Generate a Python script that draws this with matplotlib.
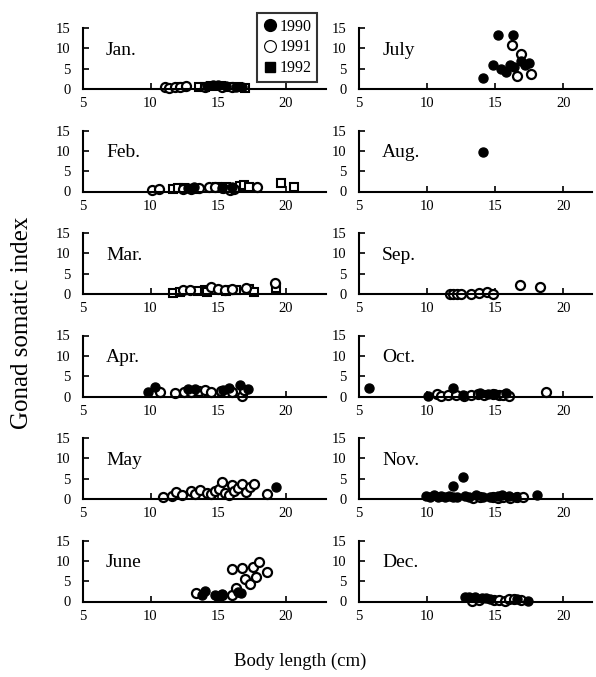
import matplotlib.pyplot as plt
from matplotlib.lines import Line2D

plt.rcParams['font.family'] = ['Liberation Serif', 'DejaVu Serif']

months = ['Jan.', 'Feb.', 'Mar.', 'Apr.', 'May', 'June',
          'July', 'Aug.', 'Sep.', 'Oct.', 'Nov.', 'Dec.']
xticks = [5, 10, 15, 20]
yticks = [0, 5, 10, 15]

# 各月数据 (体长, 性腺指数)
x1990 = {
    'Jan.': [14.2, 14.6, 15.0, 15.6, 16.3, 16.8],
    'Feb.': [12.8, 13.2, 15.3, 16.0],
    'Mar.': [],
    'Apr.': [9.8, 10.3, 12.8, 13.3, 15.4, 15.8, 16.6, 17.2],
    'May': [19.3],
    'June': [13.8, 14.0, 14.8, 15.0, 15.3, 16.5, 16.7],
    'July': [14.1, 14.8, 15.2, 15.4, 15.8, 16.1, 16.3, 16.4, 16.9, 17.2, 17.5],
    'Aug.': [14.1],
    'Sep.': [],
    'Oct.': [5.7, 10.1, 11.9, 12.6, 13.9, 14.5, 15.0, 15.8],
    'Nov.': [9.9, 10.2, 10.5, 10.8, 11.0, 11.3, 11.6, 11.9, 11.9, 12.2, 12.6,
             12.8, 13.1, 13.6, 14.1, 14.6, 15.2, 15.5, 16.0, 16.5, 18.1],
    'Dec.': [12.8, 13.1, 13.5, 14.0, 14.3, 14.6, 16.6, 17.4],
}
y1990 = {
    'Jan.': [0.8, 1.0, 0.9, 0.7, 0.6, 0.5],
    'Feb.': [0.9, 1.2, 0.8, 1.0],
    'Mar.': [],
    'Apr.': [1.1, 2.3, 1.8, 1.9, 1.6, 2.0, 2.8, 1.8],
    'May': [3.0],
    'June': [1.5, 2.6, 1.6, 1.2, 1.8, 2.3, 2.0],
    'July': [2.7, 6.0, 13.2, 5.0, 4.2, 6.0, 13.3, 5.5, 7.0, 6.0, 6.5],
    'Aug.': [9.6],
    'Sep.': [],
    'Oct.': [2.0, 0.1, 2.0, 0.3, 0.8, 0.7, 0.5, 0.9],
    'Nov.': [0.8, 0.6, 0.9, 0.5, 0.7, 0.4, 0.8, 0.6, 3.3, 0.5, 5.4,
             0.7, 0.6, 0.9, 0.5, 0.6, 0.8, 1.0, 0.7, 0.6, 0.9],
    'Dec.': [1.2, 1.0, 1.1, 0.9, 0.8, 0.7, 0.5, 0.2],
}
x1991 = {
    'Jan.': [11.1, 11.4, 11.8, 12.2, 12.6, 14.0, 15.3, 16.0],
    'Feb.': [10.1, 10.6, 12.4, 13.0, 13.6, 14.3, 14.8, 15.4, 15.9, 16.2, 17.9],
    'Mar.': [12.4, 12.9, 14.5, 15.0, 15.5, 16.0, 17.1, 19.2],
    'Apr.': [10.7, 11.8, 12.5, 13.0, 13.6, 14.0, 14.5, 15.2, 16.0, 16.8, 16.9],
    'May': [10.9, 11.6, 11.9, 12.3, 13.0, 13.3, 13.7, 14.2, 14.5, 14.8, 15.1,
            15.3, 15.5, 15.8, 16.0, 16.2, 16.5, 16.8, 17.1, 17.4, 17.7, 18.6],
    'June': [13.4, 15.3, 16.0, 16.3, 16.0, 16.8, 17.0, 17.4, 17.6, 17.8, 18.0, 18.6],
    'July': [16.2, 16.6, 16.9, 17.6],
    'Aug.': [],
    'Sep.': [11.7, 11.9, 12.2, 12.5, 13.2, 13.8, 14.4, 14.8, 16.8, 18.3],
    'Oct.': [10.7, 11.0, 11.5, 12.1, 12.7, 13.2, 13.7, 14.2, 14.8, 15.3, 15.6, 16.0, 18.7],
    'Nov.': [13.4, 13.9, 14.8, 15.2, 15.6, 16.1, 16.6, 17.0],
    'Dec.': [13.3, 13.8, 14.9, 15.3, 15.7, 16.0, 16.4, 16.9],
}
y1991 = {
    'Jan.': [0.5, 0.3, 0.4, 0.6, 0.7, 0.5, 0.6, 0.4],
    'Feb.': [0.3, 0.5, 0.7, 0.5, 0.8, 1.1, 1.0, 0.9, 0.3, 0.6, 1.1],
    'Mar.': [1.0, 1.1, 1.7, 1.2, 1.0, 1.2, 1.5, 2.8],
    'Apr.': [1.2, 0.8, 1.0, 1.2, 1.4, 1.5, 1.2, 1.3, 1.2, 0.2, 1.5],
    'May': [0.5, 0.7, 1.6, 0.9, 2.0, 1.3, 2.2, 1.5, 1.2, 1.9, 2.5,
            4.2, 1.5, 1.0, 3.5, 2.0, 2.8, 3.6, 1.8, 3.0, 3.6, 1.2],
    'June': [2.0, 1.5, 1.5, 3.4, 8.0, 8.2, 5.5, 4.3, 8.5, 6.0, 9.8, 7.2],
    'July': [10.7, 3.2, 8.6, 3.8],
    'Aug.': [],
    'Sep.': [0.0, 0.1, 0.0, 0.1, 0.0, 0.3, 0.4, 0.0, 2.1, 1.6],
    'Oct.': [0.6, 0.2, 0.3, 0.4, 0.2, 0.3, 0.5, 0.4, 0.6, 0.3, 0.4, 0.2, 1.2],
    'Nov.': [0.3, 0.4, 0.5, 0.2, 0.5, 0.3, 0.6, 0.4],
    'Dec.': [0.2, 0.3, 0.3, 0.4, 0.2, 0.5, 0.6, 0.3],
}
x1992 = {
    'Jan.': [12.3, 13.6, 14.0, 14.5, 15.2, 15.8, 16.5, 17.0],
    'Feb.': [11.7, 12.0, 12.5, 13.4, 14.9, 15.6, 16.6, 16.9, 17.3, 19.7, 20.6],
    'Mar.': [11.7, 12.2, 13.5, 14.0, 14.2, 15.6, 15.9, 16.3, 17.3, 17.7, 19.3],
}
y1992 = {
    'Jan.': [0.5, 0.4, 0.6, 0.8, 0.7, 0.5, 0.6, 0.3],
    'Feb.': [0.6, 0.8, 0.9, 0.7, 1.2, 1.0, 1.3, 1.5, 1.2, 2.0, 1.2],
    'Mar.': [0.3, 0.6, 0.8, 0.9, 0.5, 0.7, 1.0, 1.1, 1.2, 0.5, 1.5],
}

W, H = 596, 677
fig = plt.figure(figsize=(W / 100, H / 100), dpi=100)

ms = 6.5
for i, m in enumerate(months):
    col, row = i // 6, i % 6
    if col == 0:
        left, width, xmax = 83, 243, 23
    else:
        left, width, xmax = 359, 233, 22.1
    y0 = 89 + 102.5 * row
    ax = fig.add_axes([left / W, 1 - y0 / H, width / W, 61 / H])
    ax.set_xlim(5, xmax)
    ax.set_ylim(0, 15)
    ax.spines['top'].set_visible(False)
    ax.spines['right'].set_visible(False)
    ax.spines['left'].set_bounds(0, 15)
    ax.spines['left'].set_linewidth(1.5)
    ax.spines['bottom'].set_linewidth(1.5)
    ax.set_xticks(xticks)
    ax.set_yticks(yticks)
    ax.tick_params(axis='x', direction='in', length=4, width=1.2, pad=6, labelsize=10.5)
    ax.tick_params(axis='y', direction='in', length=4, width=1.2, pad=9, labelsize=10.5)
    ax.text(6.7, 9.5, m, fontsize=14, va='center', ha='left')

    if m in x1992:
        ax.plot(x1992[m], y1992[m], 's', ms=ms - 0.8, mfc='white', mec='black',
                mew=1.5, clip_on=False)
    ax.plot(x1991[m], y1991[m], 'o', ms=ms, mfc='white', mec='black',
            mew=1.6, clip_on=False)
    ax.plot(x1990[m], y1990[m], 'o', ms=ms, mfc='black', mec='black',
            mew=1.0, clip_on=False)

handles = [
    Line2D([], [], ls='', marker='o', ms=8.5, mfc='black', mec='black'),
    Line2D([], [], ls='', marker='o', ms=8.5, mfc='white', mec='black', mew=0.8),
    Line2D([], [], ls='', marker='s', ms=7.5, mfc='black', mec='black'),
]
leg = fig.legend(handles, ['1990', '1991', '1992'], loc='upper left',
                 bbox_to_anchor=(257 / W, 1 - 13 / H), fontsize=11.5,
                 frameon=True, fancybox=False, edgecolor='black',
                 handlelength=0.9, handletextpad=0.15, borderpad=0.35,
                 labelspacing=0.3, borderaxespad=0)
leg.get_frame().set_linewidth(1.5)

fig.text(22 / W, 1 - 323 / H, 'Gonad somatic index', rotation=90,
         fontsize=18, va='center', ha='center')
fig.text(300 / W, 1 - 661 / H, 'Body length (cm)', fontsize=13.5,
         va='center', ha='center')

fig.savefig('out.png', dpi=100)
